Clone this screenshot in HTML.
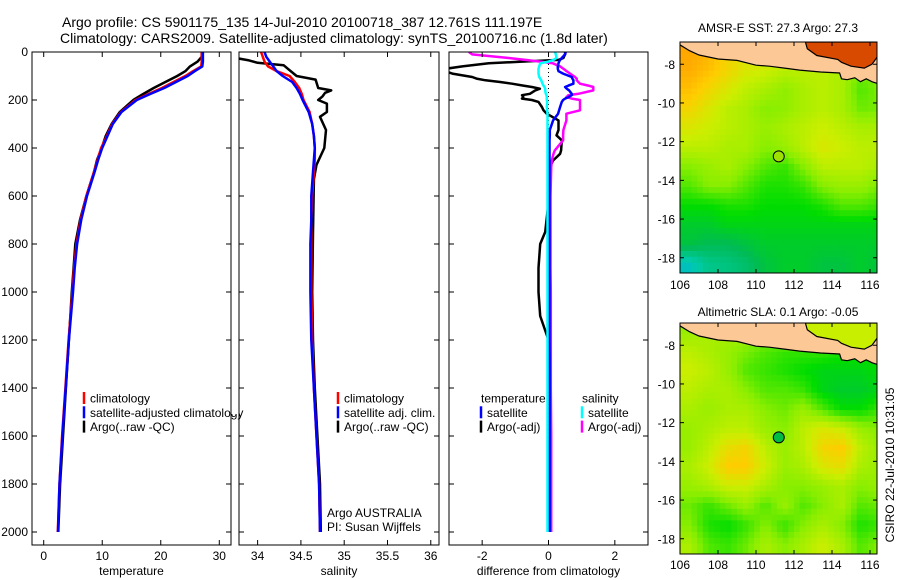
<!DOCTYPE html>
<html><head><meta charset="utf-8"><title>Argo profile</title>
<style>
html,body{margin:0;padding:0;background:#fff;}
svg{display:block;font-family:"Liberation Sans",sans-serif;}
</style></head>
<body>
<svg id="fig" width="900" height="580" viewBox="0 0 900 580" xmlns="http://www.w3.org/2000/svg">
<text x="62" y="27" font-size="14">Argo profile: CS 5901175_135 14-Jul-2010 20100718_387 12.761S 111.197E</text>
<text x="60" y="43" font-size="14">Climatology: CARS2009. Satellite-adjusted climatology: synTS_20100716.nc (1.8d later)</text>
<text x="778" y="32" font-size="12" text-anchor="middle">AMSR-E SST: 27.3 Argo: 27.3</text>
<text x="778" y="316" font-size="12" text-anchor="middle">Altimetric SLA: 0.1 Argo: -0.05</text>
<text x="0" y="0" font-size="12" text-anchor="middle" transform="translate(894,465) rotate(-90)">CSIRO 22-Jul-2010 10:31:05</text>
</svg>
<script>
// ---------- data ----------
const depths = [0,20,40,60,80,100,125,150,175,200,250,300,350,400,450,500,600,700,800,900,1000,1200,1400,1600,1800,2000];
const tempClim = [27.0,27.0,27.0,26.9,25.5,24.2,22.2,20.2,17.9,15.7,13.2,11.7,10.8,9.8,9.2,8.6,7.3,6.3,5.6,5.2,4.9,4.25,3.7,3.15,2.7,2.4];
const tempSat = [27.2,27.2,27.2,27.1,25.8,24.6,22.6,20.6,18.2,15.9,13.3,11.8,10.9,10.0,9.3,8.7,7.4,6.4,5.7,5.3,5.0,4.3,3.75,3.2,2.7,2.45];
const tempArgo = [27.0,27.0,26.3,25.0,24.2,22.8,20.8,18.8,17.0,15.3,13.0,11.6,10.6,9.9,9.1,8.6,7.3,6.2,5.4,5.1,4.8,4.3,3.8,3.3,2.8,2.5];
const salClim = [34.04,34.06,34.08,34.12,34.22,34.37,34.43,34.48,34.51,34.53,34.60,34.63,34.65,34.66,34.66,34.65,34.63,34.62,34.62,34.62,34.62,34.63,34.65,34.68,34.71,34.72];
const salSat = [34.08,34.10,34.14,34.18,34.22,34.29,34.40,34.45,34.49,34.52,34.59,34.63,34.65,34.66,34.65,34.64,34.62,34.62,34.61,34.61,34.61,34.62,34.65,34.68,34.71,34.72];
const argoDepth = [0,25,35,45,55,70,100,115,150,160,170,185,200,215,250,270,325,400,470,530,750,1000,1200,1400,1600,1800,2000];
const salArgo = [33.5,33.75,33.9,34.0,34.3,34.35,34.45,34.67,34.7,34.85,34.78,34.75,34.7,34.8,34.8,34.72,34.79,34.77,34.68,34.65,34.64,34.63,34.64,34.66,34.69,34.72,34.73];
const diffDepth = [0,10,25,33,40,47,60,70,80,90,104,111,118,125,132,140,146,153,160,174,180,188,194,200,208,229,243,257,285,325,347,368,410,424,452,480,600,750,800,900,1000,1100,1200,1400,1600,1800,2000];
const tdSat = [0.52,0.5,0.4,0.35,0.32,0.3,0.28,0.28,0.3,0.44,0.7,0.72,0.75,0.75,0.75,0.6,0.5,0.55,0.62,0.7,0.7,0.6,0.5,0.44,0.4,0.35,0.32,0.29,0.14,0.04,0.04,0.03,0.03,0.03,0.03,0.03,0.03,0.03,0.03,0.03,0.03,0.03,0.03,0.04,0.04,0.04,0.04];
const tdArgo = [0.5,0.5,0.45,0.3,-0.8,-1.8,-2.6,-3.1,-3.1,-2.9,-2.3,-2.17,-1.9,-1.46,-1.1,-0.76,-0.5,-0.26,-0.4,-0.56,-0.8,-0.76,-0.8,-0.5,-0.3,-0.2,-0.15,-0.05,0.3,0.3,0.24,0.4,0.38,0.35,0.14,0.04,0.02,-0.1,-0.25,-0.3,-0.3,-0.25,0.0,0.05,0.05,0.0,0.05];
const sdSat = [0.2,0.22,0.24,0.15,0.0,-0.25,-0.28,-0.3,-0.3,-0.3,-0.28,-0.25,-0.22,-0.2,-0.18,-0.15,-0.12,-0.1,-0.1,-0.08,-0.06,-0.05,-0.05,-0.05,-0.04,-0.05,-0.04,-0.03,-0.03,-0.03,-0.03,-0.03,-0.03,-0.03,-0.03,-0.03,-0.03,-0.03,-0.03,-0.03,-0.03,-0.03,-0.03,-0.03,-0.03,-0.03,-0.03];
const sdArgo = [-2.4,-2.3,-1.2,-0.7,-0.25,0.13,0.35,0.45,0.55,0.65,0.8,0.85,0.85,0.9,0.95,1.2,1.35,1.35,1.35,0.9,0.6,0.54,0.7,0.95,0.95,0.95,0.95,0.54,0.54,0.45,0.44,0.44,0.19,0.15,0.1,0.08,0.06,0.06,0.06,0.06,0.07,0.07,0.07,0.07,0.08,0.08,0.08];
const depthTicks = [0,200,400,600,800,1000,1200,1400,1600,1800,2000];
const tempTicks = [0,10,20,30];
const salTicks = [34,34.5,35,35.5,36];
const salTickLabels = ["34","34.5","35","35.5","36"];
const diffTicks = [-2,0,2];
const gridLats = [-7.3,-8.3,-9.3,-10.3,-11.3,-12.3,-13.3,-14.3,-15.3,-16.3,-17.3,-18.3];
const gridLons = [106.5,107.5,108.5,109.5,110.5,111.5,112.5,113.5,114.5,115.5,116.5];
const sstGrid = [
[0.78,0.76,0.7,0.66,0.66,0.64,0.64,0.66,0.9,0.85,0.82],
[0.77,0.74,0.7,0.66,0.64,0.62,0.62,0.62,0.6,0.55,0.58],
[0.74,0.7,0.66,0.62,0.6,0.57,0.6,0.62,0.6,0.52,0.55],
[0.7,0.66,0.62,0.6,0.56,0.57,0.6,0.62,0.6,0.54,0.55],
[0.66,0.64,0.62,0.6,0.58,0.6,0.62,0.64,0.62,0.6,0.6],
[0.62,0.62,0.6,0.6,0.56,0.58,0.62,0.66,0.64,0.62,0.62],
[0.56,0.58,0.6,0.56,0.52,0.5,0.56,0.62,0.62,0.62,0.6],
[0.52,0.56,0.56,0.52,0.48,0.48,0.5,0.56,0.58,0.58,0.55],
[0.46,0.46,0.48,0.48,0.46,0.46,0.46,0.48,0.52,0.52,0.5],
[0.42,0.42,0.44,0.44,0.44,0.44,0.44,0.44,0.44,0.44,0.44],
[0.4,0.38,0.38,0.4,0.42,0.42,0.42,0.42,0.42,0.42,0.42],
[0.28,0.33,0.34,0.36,0.4,0.42,0.42,0.4,0.4,0.42,0.4]];
const slaGrid = [
[0.58,0.6,0.6,0.6,0.58,0.6,0.6,0.6,0.62,0.6,0.58],
[0.62,0.6,0.58,0.55,0.52,0.5,0.5,0.5,0.48,0.48,0.48],
[0.64,0.62,0.58,0.52,0.5,0.48,0.46,0.44,0.44,0.44,0.46],
[0.62,0.6,0.6,0.56,0.52,0.52,0.5,0.44,0.42,0.42,0.44],
[0.6,0.58,0.6,0.6,0.56,0.54,0.58,0.52,0.46,0.46,0.5],
[0.58,0.6,0.62,0.62,0.58,0.56,0.62,0.66,0.64,0.58,0.56],
[0.58,0.62,0.68,0.7,0.62,0.58,0.62,0.7,0.72,0.62,0.58],
[0.6,0.64,0.72,0.72,0.64,0.58,0.6,0.66,0.68,0.6,0.58],
[0.58,0.6,0.64,0.64,0.6,0.56,0.56,0.58,0.6,0.56,0.58],
[0.54,0.5,0.54,0.58,0.52,0.58,0.52,0.56,0.6,0.52,0.54],
[0.56,0.48,0.46,0.5,0.56,0.5,0.56,0.6,0.56,0.48,0.5],
[0.6,0.52,0.5,0.54,0.6,0.56,0.6,0.64,0.6,0.52,0.56]];
const latTicks = [-8,-10,-12,-14,-16,-18];
const lonTicks = [106,108,110,112,114,116];
const argoLon = 111.197, argoLat = -12.761;

// ---------- helpers ----------
const NS = "http://www.w3.org/2000/svg";
const svg = document.getElementById("fig");
function mk(tag, attrs, parent){
  const e = document.createElementNS(NS, tag);
  for (const k in attrs) e.setAttribute(k, attrs[k]);
  (parent||svg).appendChild(e);
  return e;
}
const TOP = 52, PXD = 0.24;
const yD = d => TOP + d*PXD;
const panels = [
  {name:"temperature", x0:32, x1:231, lo:-2, hi:32, ticks:tempTicks, labels:tempTicks.map(String), xlabel:"temperature"},
  {name:"salinity", x0:239, x1:439, lo:33.785, hi:36.095, ticks:salTicks, labels:salTickLabels, xlabel:"salinity"},
  {name:"difference", x0:449, x1:648, lo:-3, hi:3, ticks:diffTicks, labels:diffTicks.map(String), xlabel:"difference from climatology"}
];
panels.forEach((p,i)=>{
  p.sx = v => p.x0 + (v-p.lo)/(p.hi-p.lo)*(p.x1-p.x0);
  const clip = mk("clipPath",{id:"clip"+i});
  mk("rect",{x:p.x0,y:TOP,width:p.x1-p.x0,height:545-TOP},clip);
  const g = mk("g",{});
  
  
  p.g = g;
  p.plot = mk("g",{"clip-path":"url(#clip"+i+")"},g);
  const fr = mk("rect",{x:p.x0,y:TOP,width:p.x1-p.x0,height:545-TOP,fill:"none",stroke:"#000","stroke-width":1},g);
  
  
  p.ticks.forEach((t,j)=>{
    const x = p.sx(t);
    mk("line",{x1:x,x2:x,y1:545,y2:540,stroke:"#000"},g);
    mk("line",{x1:x,x2:x,y1:TOP,y2:TOP+5,stroke:"#000"},g);
    const tl = mk("text",{x:x,y:560,"font-size":12,"text-anchor":"middle"},g);
    tl.textContent = p.labels[j];
    
    
  });
  depthTicks.forEach(d=>{
    const y = yD(d);
    mk("line",{x1:p.x0,x2:p.x0+5,y1:y,y2:y,stroke:"#000"},g);
    mk("line",{x1:p.x1,x2:p.x1-5,y1:y,y2:y,stroke:"#000"},g);
    if(i===0){
      const tl = mk("text",{x:28,y:y+4,"font-size":12,"text-anchor":"end"},g);
      tl.textContent = String(d);
      
      
    }
  });
  const xl = mk("text",{x:(p.x0+p.x1)/2,y:575,"font-size":12,"text-anchor":"middle"},g);
  xl.textContent = p.xlabel;
  
  
});
function line(p, xs, ds, color, name, w){
  const pts = xs.map((v,k)=>p.sx(v).toFixed(1)+","+yD(ds[k]).toFixed(1)).join(" ");
  const l = mk("polyline",{points:pts,fill:"none",stroke:color,"stroke-width":w||2.5,"stroke-linejoin":"round"},p.plot);
  
  
}
line(panels[0], tempArgo, depths, "#000", "temp-argo-line");
line(panels[0], tempClim, depths, "#f00", "temp-climatology-line");
line(panels[0], tempSat, depths, "#00f", "temp-satellite-line");
line(panels[1], salArgo, argoDepth, "#000", "sal-argo-line");
line(panels[1], salClim, depths, "#f00", "sal-climatology-line");
line(panels[1], salSat, depths, "#00f", "sal-satellite-line");
{
  const p = panels[2];
  const z = mk("line",{x1:p.sx(0),x2:p.sx(0),y1:TOP,y2:yD(2000),stroke:"#000","stroke-dasharray":"1,3"},p.plot);
  
  
  line(p, tdArgo, diffDepth, "#000", "temp-argo-diff-line");
  line(p, sdArgo, diffDepth, "#f0f", "sal-argo-diff-line");
  line(p, tdSat, diffDepth, "#00f", "temp-satellite-diff-line");
  line(p, sdSat, diffDepth, "#0ff", "sal-satellite-diff-line");
}
function legend(items, x, y0, name){
  const g = mk("g",{});
  
  
  items.forEach((it,k)=>{
    const y = y0 + k*14.3;
    if(it.c) mk("line",{x1:x,x2:x,y1:y-6,y2:y+6,stroke:it.c,"stroke-width":2.5},g);
    const t = mk("text",{x:x+(it.c?6:0),y:y+4.5,"font-size":12},g);
    t.textContent = it.t;
    
    
  });
}
legend([{c:"#f00",t:"climatology"},{c:"#00f",t:"satellite-adjusted climatology"},{c:"#000",t:"Argo(..raw -QC)"}],84,398,"temperature-legend");
legend([{c:"#f00",t:"climatology"},{c:"#00f",t:"satellite adj. clim."},{c:"#000",t:"Argo(..raw -QC)"}],338,398,"salinity-legend");
legend([{c:null,t:"temperature"},{c:"#00f",t:"satellite"},{c:"#000",t:"Argo(-adj)"}],481,398,"diff-temperature-legend");
legend([{c:null,t:"salinity"},{c:"#0ff",t:"satellite"},{c:"#f0f",t:"Argo(-adj)"}],582,398,"diff-salinity-legend");
{
  mk("rect",{x:231.5,y:400,width:7,height:14,fill:"#fff"});
  mk("line",{x1:231,x2:231,y1:400,y2:414,stroke:"#000"});
  mk("line",{x1:239,x2:239,y1:400,y2:414,stroke:"#000"});
}
const a1 = mk("text",{x:327,y:517,"font-size":12}); a1.textContent="Argo AUSTRALIA";


const a2 = mk("text",{x:327,y:531,"font-size":12}); a2.textContent="PI: Susan Wijffels";



// ---------- maps ----------
const stops = [[0.2,[0,150,255]],[0.3,[0,204,170]],[0.38,[0,187,85]],[0.46,[0,221,0]],[0.56,[136,238,0]],[0.64,[204,238,0]],[0.72,[255,204,0]],[0.8,[255,153,0]],[0.92,[187,17,0]]];
function cmap(v){
  if(v<=stops[0][0]) return "rgb("+stops[0][1]+")";
  for(let k=1;k<stops.length;k++){
    if(v<=stops[k][0]){
      const a=stops[k-1],b=stops[k],f=(v-a[0])/(b[0]-a[0]);
      return "rgb("+a[1].map((c,m)=>Math.round(c+(b[1][m]-c)*f)).join(",")+")";
    }
  }
  return "rgb("+stops[stops.length-1][1]+")";
}
const land = [[105,-6],[105,-7.0],[106,-7.0],[106.5,-7.3],[107,-7.52],[108,-7.73],[109,-7.8],[110,-8.05],[110.7,-8.1],[111.5,-8.2],[112.3,-8.3],[113.4,-8.4],[114.4,-8.45],[114.5,-8.75],[114.8,-8.8],[115.2,-8.7],[115.5,-8.9],[115.8,-8.75],[116.1,-8.9],[116.4,-9.0],[117,-9.0],[117,-6],[105,-6]];
const javaSea = [[112.6,-6.85],[112.7,-7.2],[113.2,-7.55],[114.3,-7.75],[114.5,-7.9],[115,-8.1],[115.7,-8.2],[116.1,-8.0],[116.4,-7.6],[116.4,-6.85]];
const maps = [
  {name:"sst-map", top:42, grid:sstGrid, sea:"#d84a00", filled:false, lonY:289},
  {name:"sla-map", top:323, grid:slaGrid, sea:"#c8ee00", filled:true, lonY:569}
];
maps.forEach((m,mi)=>{
  const X0=680, X1=877, LON0=106, PXLON=19.0, PXLAT=19.35, LAT0=-6.85;
  const H = 231;
  const sx = lon => X0 + (lon-LON0)*PXLON;
  const sy = lat => m.top + (LAT0-lat)*PXLAT;
  const g = mk("g",{});
  
  
  const clip = mk("clipPath",{id:"mclip"+mi});
  mk("rect",{x:X0,y:m.top,width:X1-X0,height:H},clip);
  const cg = mk("g",{"clip-path":"url(#mclip"+mi+")"},g);
  const val = (lat,lon)=>{
    let r=(gridLats[0]-lat), c=(lon-gridLons[0]);
    r=Math.max(0,Math.min(gridLats.length-1,r)); c=Math.max(0,Math.min(gridLons.length-1,c));
    const r0=Math.min(Math.floor(r),gridLats.length-2), c0=Math.min(Math.floor(c),gridLons.length-2);
    const fr=r-r0, fc=c-c0, G=m.grid;
    return G[r0][c0]*(1-fr)*(1-fc)+G[r0][c0+1]*(1-fr)*fc+G[r0+1][c0]*fr*(1-fc)+G[r0+1][c0+1]*fr*fc;
  };
  const step=0.3;
  for(let lat=LAT0; lat>-19.2; lat-=step){
    for(let lon=LON0; lon<116.5; lon+=step){
      const v = val(lat-step/2, lon+step/2);
      const cell = mk("rect",{x:sx(lon).toFixed(1),y:sy(lat).toFixed(1),width:(step*PXLON+0.6).toFixed(1),height:(step*PXLAT+0.6).toFixed(1),fill:cmap(v)},cg);
      
      
    }
  }
  const lp = mk("polygon",{points:land.map(p=>sx(p[0]).toFixed(1)+","+sy(p[1]).toFixed(1)).join(" "),fill:"#fcc896",stroke:"#000","stroke-width":1.2},cg);
  
  
  const sp = mk("polygon",{points:javaSea.map(p=>sx(p[0]).toFixed(1)+","+sy(p[1]).toFixed(1)).join(" "),fill:m.sea,stroke:"#000","stroke-width":1.2},cg);
  
  
  const fr = mk("rect",{x:X0,y:m.top,width:X1-X0,height:H,fill:"none",stroke:"#000"},g);
  
  
  latTicks.forEach(t=>{
    const y=sy(t);
    mk("line",{x1:X0,x2:X0+4,y1:y,y2:y,stroke:"#000"},g);
    mk("line",{x1:X1,x2:X1-4,y1:y,y2:y,stroke:"#000"},g);
    const tl = mk("text",{x:675,y:y+4.5,"font-size":12,"text-anchor":"end"},g);
    tl.textContent=String(t);
    
    
  });
  lonTicks.forEach(t=>{
    const x=sx(t);
    mk("line",{x1:x,x2:x,y1:m.top+H,y2:m.top+H-4,stroke:"#000"},g);
    mk("line",{x1:x,x2:x,y1:m.top,y2:m.top+4,stroke:"#000"},g);
    const tl = mk("text",{x:x,y:m.lonY,"font-size":12,"text-anchor":"middle"},g);
    tl.textContent=String(t);
    
    
  });
  const c = mk("circle",{cx:sx(argoLon),cy:sy(argoLat),r:5.5,fill:m.filled?"#00bb44":"#9ee000",stroke:"#000","stroke-width":1},g);
  
  
});
</script>
</body></html>
